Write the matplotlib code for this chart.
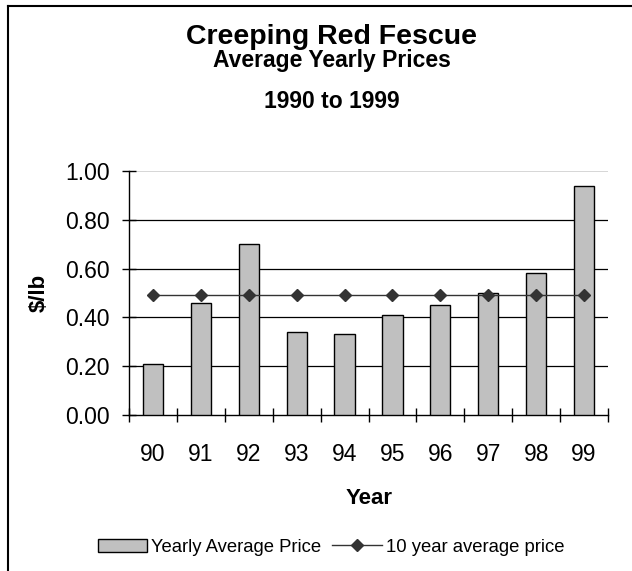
import matplotlib.pyplot as plt
from matplotlib.lines import Line2D
from matplotlib.patches import Rectangle

plt.rcParams['font.family'] = ['Liberation Sans', 'DejaVu Sans']

years = ['90', '91', '92', '93', '94', '95', '96', '97', '98', '99']
yearly_price = [0.21, 0.46, 0.70, 0.34, 0.33, 0.41, 0.45, 0.50, 0.58, 0.94]
ten_year_avg = [0.49] * 10
y_ticks = [0.0, 0.2, 0.4, 0.6, 0.8, 1.0]

W, H = 632, 571
fig = plt.figure(figsize=(W / 100, H / 100), dpi=100)

# plot area in pixels: left 129, right 608, top 171, bottom 415
L, R, T, B = 129, 608, 171, 415
ax = fig.add_axes([L / W, 1 - B / H, (R - L) / W, (B - T) / H])

x = list(range(len(years)))
ax.bar(x, yearly_price, width=0.42, color='#c0c0c0', edgecolor='black',
       linewidth=1.0, zorder=3)
ax.plot(x, ten_year_avg, color='#333333', linewidth=1.0, marker='D',
        markersize=6.5, zorder=4)

ax.set_xlim(-0.5, len(years) - 0.5)
ax.set_ylim(0, 1.0)
ax.set_yticks(y_ticks)
ax.set_yticklabels(['%.2f' % v for v in y_ticks], fontsize=16.5)

# gridlines
for v in y_ticks[1:-1]:
    ax.axhline(v, color='black', linewidth=0.9, zorder=1)
ax.axhline(1.0, color='#d0d0d0', linewidth=1.2, zorder=1)

# category ticks at boundaries, labels centered
ax.set_xticks([i - 0.5 for i in range(len(years) + 1)], minor=False)
ax.set_xticklabels([''] * (len(years) + 1))
ax.set_xticks(x, minor=True)
ax.set_xticklabels(years, minor=True, fontsize=16.5)
ax.tick_params(axis='x', which='minor', length=0, pad=20)
ax.tick_params(axis='x', which='major', length=10, direction='inout', width=1)
ax.tick_params(axis='y', length=10, direction='inout', width=1, pad=9)

for s in ['top', 'right']:
    ax.spines[s].set_visible(False)
ax.spines['left'].set_linewidth(1.0)
ax.spines['bottom'].set_linewidth(1.0)

ax.set_ylabel('$/lb', fontsize=16, fontweight='bold')
ax.yaxis.set_label_coords((50 - L) / (R - L), 0.5)
ax.set_xlabel('Year', fontsize=16, fontweight='bold')
ax.xaxis.set_label_coords((369 - L) / (R - L), -(488 - B) / (B - T))

# titles
cx = 332 / W
fig.text(cx, 1 - 37 / H, 'Creeping Red Fescue', ha='center', va='center',
         fontsize=20.5, fontweight='bold')
fig.text(cx, 1 - 61 / H, 'Average Yearly Prices', ha='center', va='center',
         fontsize=16.5, fontweight='bold')
fig.text(cx, 1 - 101 / H, '1990 to 1999', ha='center', va='center',
         fontsize=16.5, fontweight='bold')

# legend
handles = [Rectangle((0, 0), 1, 1, facecolor='#c0c0c0', edgecolor='black', linewidth=1.0),
           Line2D([], [], color='#333333', linewidth=1.0, marker='D', markersize=6)]
fig.legend(handles, ['Yearly Average Price', '10 year average price'],
           loc='center', bbox_to_anchor=(331 / W, 1 - 547 / H), ncol=2,
           frameon=False, fontsize=13.3, handlelength=2.7, handleheight=0.7,
           handletextpad=0.2, columnspacing=0.6)

# outer border (top and left only visible)
fig.add_artist(Line2D([8 / W, 8 / W], [0, 1 - 6 / H], color='black', linewidth=1.5,
                      transform=fig.transFigure))
fig.add_artist(Line2D([8 / W, 1], [1 - 6 / H, 1 - 6 / H], color='black', linewidth=1.5,
                      transform=fig.transFigure))

fig.savefig('out.png', dpi=100)
